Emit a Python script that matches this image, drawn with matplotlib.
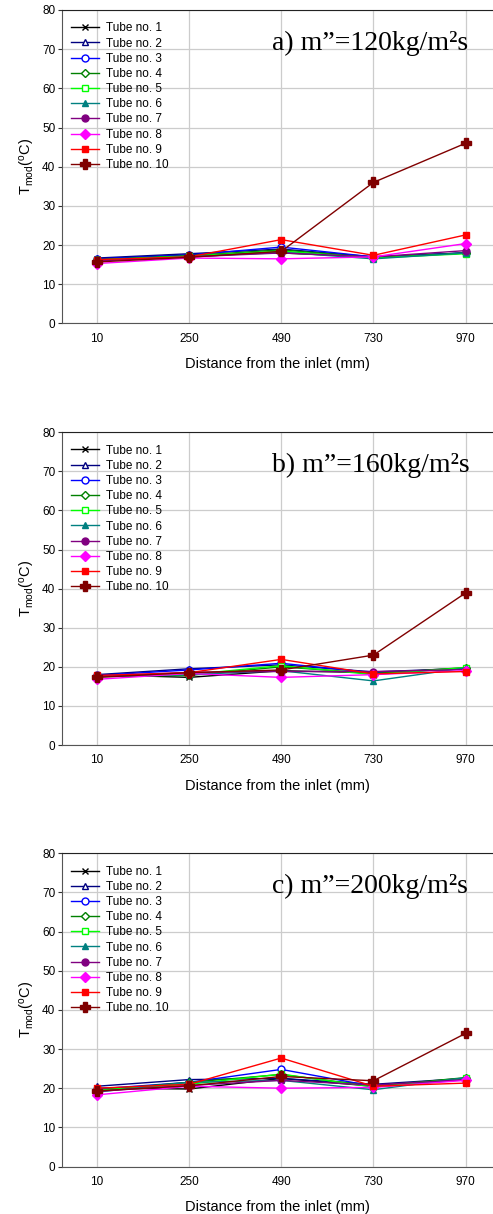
import matplotlib
matplotlib.use("Agg")
import matplotlib.pyplot as plt

plt.rcParams['font.family'] = ['Liberation Sans', 'DejaVu Sans']
plt.rcParams['mathtext.fontset'] = 'custom'
plt.rcParams['mathtext.rm'] = 'Liberation Sans'
plt.rcParams['mathtext.it'] = 'Liberation Sans'

distances = [10, 250, 490, 730, 970]
tube_labels = [f"Tube no. {i}" for i in range(1, 11)]

# Panel a) m''=120
a_vals = [
    [16.5, 17.5, 18.0, 17.0, 18.0],   # 1
    [16.7, 17.8, 19.0, 17.0, 18.0],   # 2
    [16.5, 17.5, 19.5, 17.0, 18.0],   # 3
    [16.3, 17.3, 18.8, 16.8, 18.0],   # 4
    [16.2, 17.2, 18.5, 16.7, 17.8],   # 5
    [16.0, 17.0, 18.2, 16.5, 18.0],   # 6
    [16.0, 17.0, 18.0, 17.0, 18.6],   # 7
    [15.3, 16.7, 16.5, 17.0, 20.4],   # 8
    [16.3, 17.0, 21.4, 17.4, 22.6],   # 9
    [15.7, 16.9, 18.4, 36.0, 46.0],   # 10
]
# Panel b) m''=160
b_vals = [
    [18.0, 17.3, 19.0, 18.5, 19.5],
    [18.0, 19.5, 20.5, 18.7, 19.6],
    [17.8, 19.2, 20.9, 18.5, 19.5],
    [17.5, 17.8, 20.0, 18.3, 19.8],
    [17.5, 18.0, 20.3, 18.0, 19.8],
    [17.5, 18.0, 19.0, 16.4, 19.7],
    [17.5, 18.6, 18.8, 18.8, 19.3],
    [16.8, 18.3, 17.3, 18.0, 19.0],
    [17.8, 18.5, 21.9, 18.2, 18.8],
    [17.3, 18.5, 19.2, 23.0, 38.9],
]
# Panel c) m''=200
c_vals = [
    [20.0, 19.8, 22.5, 20.5, 22.3],
    [20.5, 22.2, 22.5, 21.0, 22.5],
    [19.8, 21.5, 24.8, 20.5, 22.2],
    [19.5, 21.5, 23.5, 20.5, 22.7],
    [19.5, 21.0, 23.6, 20.3, 22.5],
    [19.0, 21.5, 22.0, 19.6, 22.7],
    [19.2, 20.7, 22.0, 20.8, 22.2],
    [18.3, 20.5, 20.0, 20.2, 22.0],
    [20.0, 21.0, 27.7, 20.5, 21.3],
    [19.3, 20.6, 23.0, 21.9, 34.0],
]

panel_titles = ["a) m\u201d=120kg/m\u00b2s", "b) m\u201d=160kg/m\u00b2s", "c) m\u201d=200kg/m\u00b2s"]

colors = ['#000000', '#000080', '#0000FF', '#008000', '#00FF00',
          '#008080', '#800080', '#FF00FF', '#FF0000', '#800000']
markers = ['x', '^', 'o', 'D', 's', '^', 'o', 'D', 's', 'P']
filled = [True, False, False, False, False, True, True, True, True, True]
msizes = [5, 5, 5, 4.5, 5, 5, 5, 5, 5, 6.5]

W, H = 493, 1214
fig = plt.figure(figsize=(W / 100, H / 100), dpi=100)

panel_px = [(10, 323.5), (432.3, 745), (853.3, 1166.5)]
left_px, right_px = 62.3, 492.5

for (top, bot), vals, title in zip(panel_px, [a_vals, b_vals, c_vals], panel_titles):
    ax = fig.add_axes([left_px / W, 1 - bot / H, (right_px - left_px) / W, (bot - top) / H])
    for i in range(10):
        mfc = colors[i] if filled[i] else 'white'
        ax.plot(distances, vals[i], color=colors[i], marker=markers[i],
                markersize=msizes[i], markerfacecolor=mfc, markeredgecolor=colors[i],
                markeredgewidth=1.0, linewidth=1.0, label=tube_labels[i])
    ax.set_xlim(-80, 1040)
    ax.set_ylim(0, 80)
    ax.set_xticks(distances)
    ax.set_yticks(range(0, 81, 10))
    ax.grid(True, color='#cccccc', linewidth=0.9)
    ax.set_axisbelow(True)
    ax.tick_params(axis='both', labelsize=8.5, colors='#333333', labelcolor='black')
    ax.tick_params(axis='x', length=0, pad=6.5)
    ax.tick_params(axis='y', length=3, pad=2)
    for s in ['left', 'bottom']:
        ax.spines[s].set_color('#555555')
    ax.spines['right'].set_visible(False)
    ax.spines['top'].set_color('#222222')
    ax.set_xlabel("Distance from the inlet (mm)", fontsize=10.5, labelpad=9)
    ax.set_ylabel(r"T$_{\mathrm{mod}}$($^{\mathrm{o}}$C)", fontsize=10.5, labelpad=4)
    ax.text(0.488, 0.893, title, transform=ax.transAxes, fontsize=20,
            family='Liberation Serif', ha='left', va='center')
    ax.legend(loc='upper left', frameon=False, fontsize=8.5, handlelength=2.4,
              labelspacing=0.27, borderaxespad=0.3, handletextpad=0.6,
              bbox_to_anchor=(0.0, 0.987))

fig.savefig("out.png", dpi=100)
